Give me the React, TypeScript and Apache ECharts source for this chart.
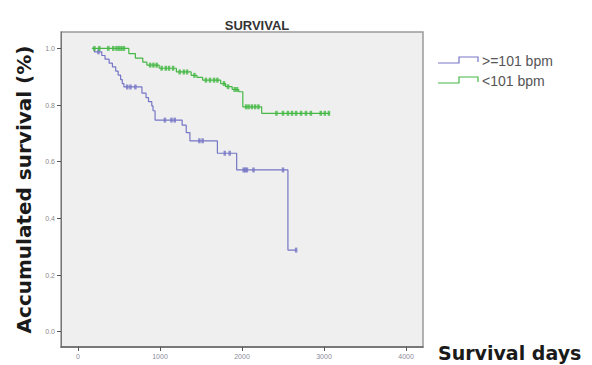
import React, { useEffect, useRef } from "react";
import * as echarts from "echarts";

// Kaplan–Meier step points [days, cumulative survival]
const highHrCurve: [number, number][] = [
  [170, 1.0], [200, 0.988], [290, 0.975], [330, 0.962], [380, 0.948], [420, 0.935],
  [460, 0.92], [490, 0.906], [520, 0.89], [540, 0.876], [560, 0.864], [780, 0.842],
  [830, 0.826], [860, 0.812], [900, 0.797], [915, 0.78], [940, 0.747], [1270, 0.729],
  [1320, 0.703], [1365, 0.674], [1700, 0.63], [1935, 0.571], [2560, 0.288], [2665, 0.288],
];
const lowHrCurve: [number, number][] = [
  [170, 1.0], [620, 0.982], [700, 0.966], [790, 0.952], [840, 0.941], [990, 0.93],
  [1200, 0.917], [1380, 0.905], [1450, 0.898], [1520, 0.888], [1740, 0.876],
  [1800, 0.865], [1880, 0.855], [1960, 0.847], [2010, 0.794], [2240, 0.771], [3070, 0.771],
];
// censored observation times (days)
const highHrCensored = [250, 600, 640, 700, 1060, 1140, 1180, 1480, 1520, 1790, 1850, 2020, 2040, 2060, 2140, 2500, 2660];
const lowHrCensored = [
  200, 260, 370, 430, 470, 500, 530, 560, 880, 920, 960, 1020, 1070, 1110, 1160,
  1240, 1290, 1330, 1420, 1560, 1610, 1660, 1700, 1780, 1830, 1910, 1940,
  2050, 2080, 2120, 2160, 2200, 2420, 2500, 2560, 2610, 2660, 2720, 2780, 2840, 2960, 3010, 3060,
];
const yTicks = [0, 0.2, 0.4, 0.6, 0.8, 1.0];
const xTicks = [0, 1000, 2000, 3000, 4000];
const seriesNames = [">=101 bpm", "<101 bpm"];
const seriesColors = ["#7676c6", "#45b845"];

function survivalAt(curve: [number, number][], t: number): number {
  let s = curve[0][1];
  for (const [ti, si] of curve) {
    if (ti <= t) s = si;
    else break;
  }
  return s;
}

export default function App() {
  const ref = useRef<HTMLDivElement>(null);
  useEffect(() => {
    if (!ref.current) return;
    const chart = echarts.init(ref.current, undefined, { renderer: "svg" });
    const curves = [highHrCurve, lowHrCurve];
    const censors = [highHrCensored, lowHrCensored];
    const lineSeries = curves.map((c, i) => ({
      type: "line",
      name: seriesNames[i],
      data: c,
      step: "end",
      showSymbol: false,
      symbol: "none",
      lineStyle: { color: seriesColors[i], width: 1.2 },
      z: 3,
    }));
    const censorSeries = censors.map((ts, i) => ({
      type: "scatter",
      name: seriesNames[i] + " censored",
      data: ts.map((t) => [t, survivalAt(curves[i], t)]),
      symbol: "rect",
      symbolSize: [2.5, 5],
      itemStyle: { color: seriesColors[i] },
      z: 4,
    }));
    const legendGraphics: any[] = [];
    seriesNames.forEach((n, i) => {
      const y = 62 + i * 20;
      legendGraphics.push({
        type: "polyline",
        shape: { points: [[438, y + 1], [459, y + 1], [459, y - 5], [478, y - 5], [478, y]] },
        style: { stroke: seriesColors[i], lineWidth: 1.2, fill: "none" },
      });
      legendGraphics.push({
        type: "text",
        x: 482,
        y: y - 1,
        style: {
          text: n,
          fontFamily: "Liberation Sans, Arial, sans-serif",
          fontSize: 14,
          fill: "#555",
          textVerticalAlign: "middle",
          verticalAlign: "middle",
        },
      });
    });
    chart.setOption({
      animation: false,
      backgroundColor: "#ffffff",
      title: {
        text: "SURVIVAL",
        left: 252,
        top: 14,
        textAlign: "center",
        textStyle: { fontFamily: "Liberation Sans, Arial, sans-serif", fontWeight: "bold", fontSize: 13, color: "#333" },
      },
      grid: {
        left: 61, top: 32, right: 169, bottom: 18,
        show: true, backgroundColor: "#efefef", borderColor: "#9a9a9a", borderWidth: 1.5,
      },
      xAxis: {
        type: "value",
        min: -207,
        max: 4207,
        splitLine: { show: false },
        axisLine: { show: true, onZero: false, lineStyle: { color: "#666", width: 1.5 } },
        axisTick: { show: true, length: 4, customValues: xTicks, lineStyle: { color: "#555" } },
        axisLabel: {
          customValues: xTicks,
          fontSize: 7,
          color: "#8a8a9a",
          margin: 6,
          formatter: (v: number) => String(Math.round(v)),
        },
      },
      yAxis: {
        type: "value",
        min: -0.054,
        max: 1.058,
        splitLine: { show: false },
        axisLine: { show: true, onZero: false, lineStyle: { color: "#777", width: 1 } },
        axisTick: { show: true, length: 4, customValues: yTicks, lineStyle: { color: "#555" } },
        axisLabel: {
          customValues: yTicks,
          fontSize: 7,
          color: "#8a8a8a",
          margin: 6,
          formatter: (v: number) => v.toFixed(1),
        },
        name: "Accumulated survival (%)",
        nameLocation: "middle",
        nameGap: 26,
        nameTextStyle: { fontFamily: "DejaVu Sans, Verdana, sans-serif", fontWeight: "bold", fontSize: 20, color: "#1a1a1a" },
      },
      graphic: [
        ...legendGraphics,
        {
          type: "text",
          x: 438,
          y: 353,
          style: {
            text: "Survival days",
            fontFamily: "DejaVu Sans, Verdana, sans-serif",
            fontWeight: "bold",
            fontSize: 19,
            fill: "#1a1a1a",
            verticalAlign: "middle",
            textVerticalAlign: "middle",
          },
        },
      ],
      series: [...lineSeries, ...censorSeries],
    });
    return () => chart.dispose();
  }, []);
  return (
    <div
      ref={ref}
      style={{ position: "fixed", left: 0, top: 0, width: 592, height: 365 }}
    />
  );
}
